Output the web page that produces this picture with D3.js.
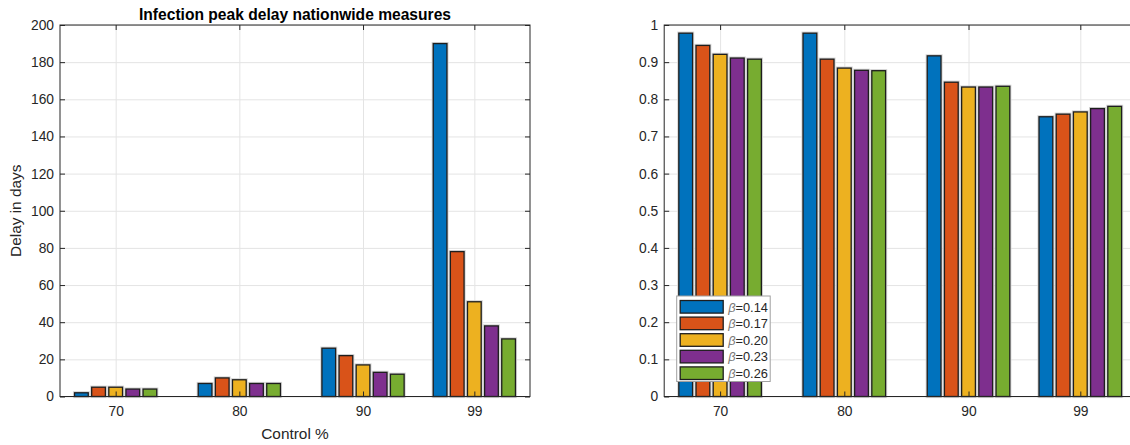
<!DOCTYPE html>
<html>
<head>
<meta charset="utf-8">
<script src="https://cdn.jsdelivr.net/npm/d3@7"></script>
<style>
  body { margin: 0; background: #fff; }
  svg { display: block; font-family: "Liberation Sans", Arial, Helvetica, sans-serif; }
  .grid line { stroke: #e4e4e4; stroke-width: 1; }
  .grid .domain { display: none; }
  .axis .domain { display: none; }
  .axis line { stroke: #262626; }
  .axis text { fill: #262626; font-size: 13.8px; }
</style>
</head>
<body>
<svg id="chart" width="1130" height="445"></svg>
<script>
// Control levels (x positions) and beta values (series)
const controls = [70, 80, 90, 99];
const betas = ["0.14", "0.17", "0.20", "0.23", "0.26"];
const colors = ["#0072BD", "#D95319", "#EDB120", "#7E2F8E", "#77AC30"];

// Left: infection peak delay in days, one array per beta
const delay014 = [2, 7, 26, 190];
const delay017 = [5, 10, 22, 78];
const delay020 = [5, 9, 17, 51];
const delay023 = [4, 7, 13, 38];
const delay026 = [4, 7, 12, 31];

// Right: ratio, one array per beta
const ratio014 = [0.978, 0.978, 0.917, 0.753];
const ratio017 = [0.945, 0.908, 0.846, 0.760];
const ratio020 = [0.921, 0.884, 0.833, 0.766];
const ratio023 = [0.911, 0.878, 0.833, 0.775];
const ratio026 = [0.908, 0.877, 0.835, 0.781];

const leftTicks = d3.range(0, 201, 20);
const rightTicks = d3.range(0, 11).map(d => d / 10);

const delaySeries = [delay014, delay017, delay020, delay023, delay026];
const ratioSeries = [ratio014, ratio017, ratio020, ratio023, ratio026];

const svg = d3.select("#chart");
const xDomain = [65.5, 103.5];

const drawPanel = function (opts) {
  const width = opts.width, height = opts.height;
  const g = svg.append("g").attr("transform", "translate(" + opts.left + "," + opts.top + ")");

  const x = d3.scaleLinear().domain(xDomain).range([0, width]);
  const y = d3.scaleLinear().domain(opts.yDomain).range([height, 0]);

  // group width like MATLAB: spacing * n/(n+1.5)
  const groupW = x(xDomain[0] + 9 * betas.length / (betas.length + 1.5)) - x(xDomain[0]);
  const inner = d3.scaleBand().domain(betas).range([-groupW / 2, groupW / 2])
    .paddingInner(0.2).paddingOuter(0.1);

  // grid
  g.append("g").attr("class", "grid")
    .call(d3.axisLeft(y).tickValues(opts.yTicks).tickSize(-width).tickFormat(""));
  g.append("g").attr("class", "grid").attr("transform", "translate(0," + height + ")")
    .call(d3.axisBottom(x).tickValues(controls).tickSize(-height).tickFormat(""));

  // bars
  const rows = [];
  opts.series.forEach((vals, si) => {
    vals.forEach((v, ci) => rows.push({ beta: betas[si], si: si, c: controls[ci], v: v }));
  });
  const bx = d => x(d.c) + inner(d.beta);
  // light halo first, then the bar itself
  g.selectAll(".halo").data(rows).enter().append("rect")
    .attr("class", "halo")
    .attr("x", bx).attr("y", d => y(d.v))
    .attr("width", inner.bandwidth())
    .attr("height", d => height - y(d.v))
    .attr("fill", "none").attr("stroke", "#d4d4d4").attr("stroke-width", 3.2);
  g.selectAll(".bar").data(rows).enter().append("rect")
    .attr("class", "bar")
    .attr("x", bx)
    .attr("y", d => y(d.v))
    .attr("width", inner.bandwidth())
    .attr("height", d => height - y(d.v))
    .attr("fill", d => colors[d.si])
    .attr("stroke", "#1e1e1e")
    .attr("stroke-width", 1.3);

  // axes (ticks inside, box)
  g.append("g").attr("class", "axis")
    .call(d3.axisLeft(y).tickValues(opts.yTicks).tickSize(-5).tickPadding(6).tickFormat(opts.fmt));
  g.append("g").attr("class", "axis").attr("transform", "translate(" + width + ",0)")
    .call(d3.axisRight(y).tickValues(opts.yTicks).tickSize(-5).tickFormat(""));
  g.append("g").attr("class", "axis").attr("transform", "translate(0," + height + ")")
    .call(d3.axisBottom(x).tickValues(controls).tickSize(-5).tickPadding(10));
  g.append("g").attr("class", "axis")
    .call(d3.axisTop(x).tickValues(controls).tickSize(-5).tickFormat(""));
  g.append("rect").attr("width", width).attr("height", height)
    .attr("fill", "none").attr("stroke", "#262626").attr("stroke-width", 1);

  return { g: g, x: x, y: y };
};

// Left panel
const p1 = drawPanel({ left: 60, top: 25, width: 470, height: 371.5,
  yDomain: [0, 200], yTicks: leftTicks, series: delaySeries, fmt: d3.format("d") });

p1.g.append("text").attr("x", 235).attr("y", -5).attr("text-anchor", "middle")
  .attr("font-weight", "bold").attr("font-size", "15.6px").attr("fill", "#000")
  .text("Infection peak delay nationwide measures");
p1.g.append("text").attr("x", 235).attr("y", 414).attr("text-anchor", "middle")
  .attr("font-size", "15.4px").attr("fill", "#262626").text("Control %");
p1.g.append("text").attr("transform", "translate(-39," + (371.5 / 2) + ") rotate(-90)")
  .attr("text-anchor", "middle").attr("font-size", "15.4px").attr("fill", "#262626")
  .text("Delay in days");

// Right panel
const p2 = drawPanel({ left: 664.2, top: 25, width: 472, height: 371.5,
  yDomain: [0, 1], yTicks: rightTicks, series: ratioSeries, fmt: d => d3.format("")(d) });

// Legend
const lg = p2.g.append("g").attr("transform", "translate(12.5,271)");
lg.append("rect").attr("width", 93.5).attr("height", 85.5)
  .attr("fill", "#fff").attr("stroke", "#a0a0a0").attr("stroke-width", 1);
const item = lg.selectAll(".item").data(betas).enter().append("g")
  .attr("transform", (d, i) => "translate(3.5," + (4.5 + i * 16.6) + ")");
item.append("rect").attr("width", 43).attr("height", 12.6)
  .attr("fill", (d, i) => colors[i]).attr("stroke", "#1e1e1e").attr("stroke-width", 1.3);
const lt = item.append("text").attr("x", 48).attr("y", 11).attr("font-size", "12.8px").attr("fill", "#262626");
lt.append("tspan").attr("font-style", "italic").attr("fill", "#777").text("β");
lt.append("tspan").text(d => "=" + d);
</script>
</body>
</html>
